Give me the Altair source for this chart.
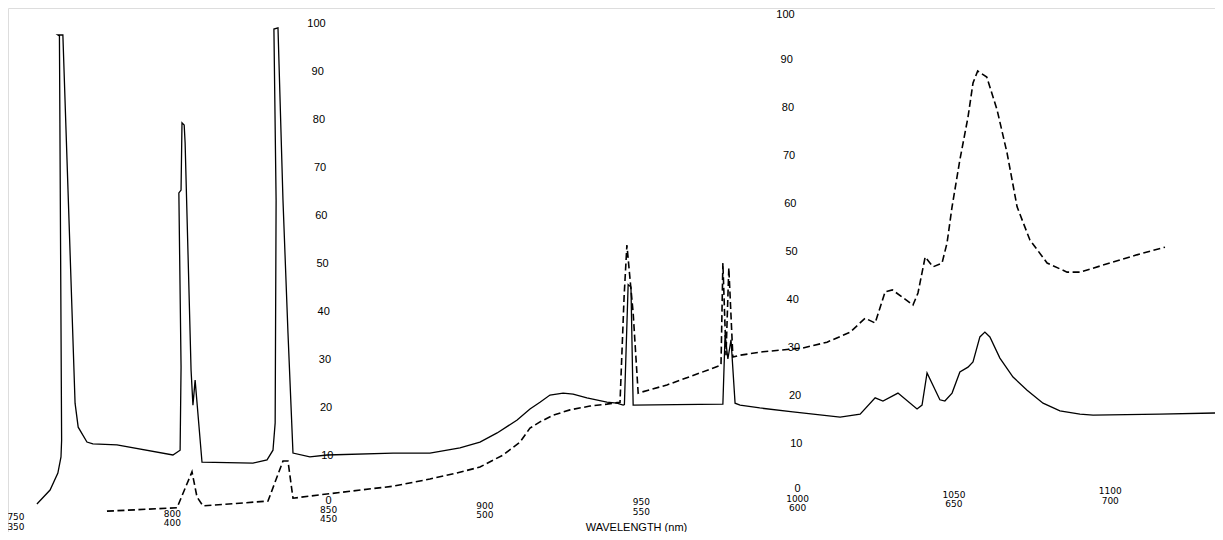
import altair as alt
import pandas as pd

# ---- data (wavelength in nm, percent) ----
solid_points = [
    (756.7, -0.2), (760.9, 2.7), (763.4, 6.25), (764.4, 9.6), (764.6, 13.1),
    (763.9, 97.3), (763.4, 97.5), (765.0, 97.5), (768.9, 20.8), (769.9, 15.8),
    (772.7, 12.7), (774.6, 12.3), (782.3, 12.1), (800.2, 10.0), (802.5, 11.0),
    (802.8, 28.3), (802.1, 64.6), (802.8, 65.2), (803.1, 79.2), (803.8, 78.75),
    (804.1, 75.0), (806.0, 27.7), (806.6, 20.4), (807.3, 25.6), (809.5, 8.5),
    (825.8, 8.3), (830.3, 9.0), (832.2, 11.0), (832.9, 16.7), (833.2, 63.1),
    (832.5, 98.75), (833.8, 99.0), (835.4, 63.1), (837.0, 35.4), (838.6, 10.4),
    (844.0, 9.6), (849.5, 10.0), (870.6, 10.4), (882.4, 10.4), (892.0, 11.5),
    (898.4, 12.7), (903.9, 14.6), (910.3, 17.3), (914.4, 19.6), (917.6, 21.0),
    (920.8, 22.5), (925.0, 22.9), (928.2, 22.7), (932.6, 21.9), (939.0, 21.0),
    (942.2, 20.8), (944.2, 20.4), (944.6, 20.5), (945.8, 45.5), (946.7, 45.0),
    (947.4, 20.4), (961.0, 20.5), (976.1, 20.6), (976.8, 35.0), (977.7, 30.0),
    (978.7, 34.0), (980.0, 20.8), (981.6, 20.4), (987.9, 19.8), (998.5, 19.0),
    (1013.6, 17.9), (1020.0, 18.5), (1024.8, 21.9), (1027.3, 21.25), (1032.1, 22.9),
    (1038.2, 19.6), (1039.8, 20.4), (1041.4, 27.1), (1045.5, 21.5), (1047.1, 21.25),
    (1049.4, 22.9), (1051.9, 27.3), (1054.5, 28.3), (1056.1, 29.4), (1058.3, 34.6),
    (1059.9, 35.6), (1061.5, 34.6), (1064.7, 30.2), (1068.9, 26.25), (1073.4, 23.5),
    (1078.5, 20.8), (1083.9, 19.2), (1090.3, 18.5), (1094.5, 18.3), (1115.9, 18.5),
    (1133.5, 18.75),
]

dashed_points = [
    (779.1, -1.7), (801.5, -1.0), (806.3, 6.5), (807.9, 1.25), (809.8, -0.6),
    (830.6, 0.4), (835.4, 8.75), (837.0, 8.75), (838.6, 1.0), (847.2, 1.7),
    (870.6, 3.5), (882.4, 5.0), (891.0, 6.25), (898.4, 7.5), (905.8, 10.0),
    (911.2, 12.7), (914.4, 15.6), (917.6, 16.9), (921.8, 18.3), (927.2, 19.4),
    (933.6, 20.2), (939.0, 20.6), (943.2, 21.0), (944.5, 42.9), (945.4, 53.75),
    (947.4, 39.6), (949.0, 22.9), (958.2, 24.6), (968.8, 27.1), (975.5, 28.75),
    (976.1, 50.0), (977.1, 30.8), (978.0, 49.0), (979.3, 30.4), (981.6, 30.8),
    (988.9, 31.5), (1001.7, 32.3), (1009.4, 33.5), (1016.8, 35.6), (1021.6, 38.5),
    (1024.8, 37.5), (1028.0, 44.0), (1030.3, 44.4), (1036.9, 41.25), (1038.5, 43.75),
    (1040.8, 51.25), (1043.3, 49.2), (1046.2, 50.0), (1047.8, 54.2), (1049.4, 61.7),
    (1051.9, 71.5), (1054.5, 80.4), (1056.1, 87.5), (1057.6, 90.0), (1060.5, 88.75),
    (1063.8, 81.9), (1067.0, 72.9), (1070.2, 61.7), (1074.3, 54.8), (1079.8, 50.0),
    (1086.2, 48.1), (1090.3, 48.1), (1099.9, 50.0), (1108.5, 51.7), (1117.5, 53.3),
]

tick_wavelengths = [750, 800, 850, 900, 950, 1000, 1050, 1100]
tick_upper = ["750", "800", "850", "900", "950", "1000", "1050", "1100"]
tick_lower = ["350", "400", "450", "500", "550", "600", "650", "700"]
percent_ticks = [0, 10, 20, 30, 40, 50, 60, 70, 80, 90, 100]

X_DOMAIN = [747.45, 1133.5]
Y_DOMAIN = [-6.04, 103.13]
Y2_DOMAIN = [-8.54, 100.63]
FONT = "Liberation Sans"
TICK_FONT = "DejaVu Sans"

solid_df = pd.DataFrame(solid_points, columns=["wl", "pct"])
solid_df["i"] = range(len(solid_df))
dashed_df = pd.DataFrame(dashed_points, columns=["wl", "pct"])
dashed_df["i"] = range(len(dashed_df))
ticks_df = pd.DataFrame({"wl": tick_wavelengths, "upper": tick_upper, "lower": tick_lower})
pct_df = pd.DataFrame({"pct": percent_ticks})

xs = alt.Scale(domain=X_DOMAIN, nice=False, zero=False)
ys = alt.Scale(domain=Y_DOMAIN, nice=False, zero=False)
ys2 = alt.Scale(domain=Y2_DOMAIN, nice=False, zero=False)

x_axis = alt.Axis(labels=False, ticks=False, domain=False, grid=False,
                  title="WAVELENGTH (nm)", titleX=628, titleY=-5,
                  titleBaseline="middle", titleAlign="center",
                  titleFontSize=11, titleFontWeight="normal", titleFont=FONT,
                  titleColor="black")


def slant(shift, step):
    # labels of the scanned sheet lean slightly: per-value horizontal padding
    return {
        "condition": [
            {"test": f"datum.value == {v}", "value": round(shift + step * v, 1)}
            for v in percent_ticks
        ],
        "value": 0,
    }


def nudge(pairs):
    return {
        "condition": [{"test": f"datum.value == {v}", "value": d} for v, d in pairs],
        "value": 0,
    }


def pct_axis(orient, offset, padding, label_offset=0):
    return alt.Axis(orient=orient, offset=offset, values=percent_ticks, format="d",
                    labelAlign="center", labelBaseline="middle", labelPadding=padding,
                    labelOffset=label_offset,
                    ticks=False, tickSize=0, domain=False, grid=False, title=None,
                    labelFontSize=11, labelFont=FONT, labelColor="black")


y_axis_left = pct_axis("left", -320, slant(0, 0.12), nudge([(0, -3)]))
y_axis_right = pct_axis("right", -430, slant(12, -0.12), nudge([(100, 3), (0, -3)]))

x_enc = alt.X("wl:Q", scale=xs, axis=x_axis)

solid = alt.Chart(solid_df).mark_line(color="black", strokeWidth=1.3).encode(
    x=x_enc,
    y=alt.Y("pct:Q", scale=ys, axis=y_axis_left),
    order="i:Q",
)

dashed = alt.Chart(dashed_df).mark_line(color="black", strokeWidth=1.6, strokeDash=[7, 3.5]).encode(
    x=x_enc,
    y=alt.Y("pct:Q", scale=ys, axis=y_axis_left),
    order="i:Q",
)

tick_labels = alt.Chart(ticks_df).transform_calculate(
    ly="0.56 + 0.01548 * (datum.wl - 925)",
    lbl="[datum.upper, datum.lower]",
).mark_text(font=TICK_FONT, fontSize=9, lineHeight=9.2, color="black",
            baseline="top", align="center").encode(
    x=x_enc,
    y=alt.Y("ly:Q", scale=ys, axis=y_axis_left),
    text="lbl:N",
)

main = alt.layer(solid, dashed, tick_labels)

axis2 = alt.Chart(pct_df).mark_point(opacity=0).encode(
    y=alt.Y("pct:Q", scale=ys2, axis=y_axis_right),
)

chart = alt.layer(main, axis2).resolve_scale(y="independent").properties(
    width=1207, height=524,
    autosize=alt.AutoSizeParams(type="none"),
    padding=0,
).configure_view(stroke=None).configure(background="white")

chart.save("out.html", embed_options={"renderer": "svg", "actions": False})
